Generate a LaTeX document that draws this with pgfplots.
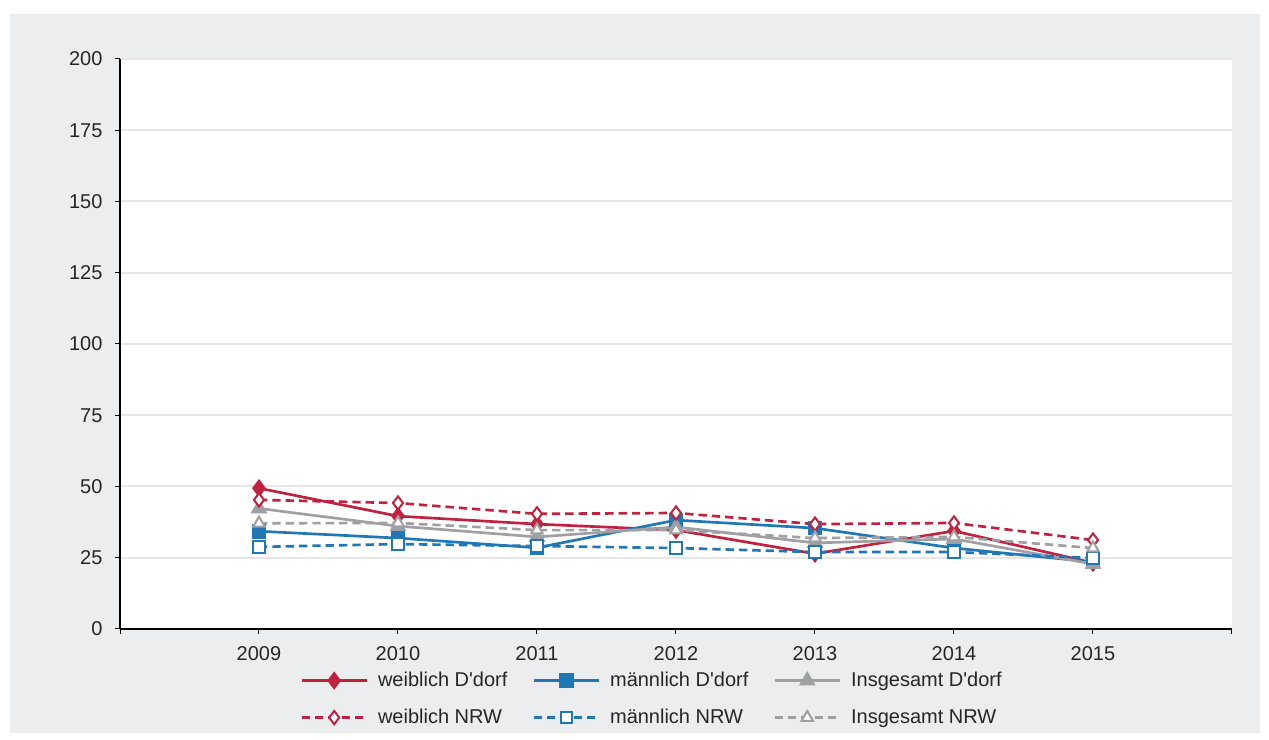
\documentclass[border=0pt]{standalone}
\usepackage{fontspec}
\setmainfont{Liberation Sans}
\usepackage{pgfplots}
\pgfplotsset{compat=1.18}
\definecolor{cred}{HTML}{C0213F}
\definecolor{cblue}{HTML}{2077B4}
\definecolor{cgray}{HTML}{A0A0A4}
\definecolor{bg}{HTML}{ECEDEF}
\definecolor{gridc}{HTML}{E6E6E8}
\begin{document}
\begin{tikzpicture}
\fill[white] (0pt,0pt) rectangle (761.4pt,444pt);
\fill[bg] (6pt,4.2pt) rectangle (756pt,435.6pt);
\begin{axis}[
  scale only axis, width=667.2pt, height=342pt,
  at={(72pt,66.6pt)}, anchor=south west,
  xmin=2008, xmax=2016, ymin=0, ymax=200,
  axis x line*=bottom, axis y line*=left,
  axis background/.style={fill=white},
  ytick={0,25,...,200},
  xtick={2008,...,2016},
  xticklabels={,2009,2010,2011,2012,2013,2014,2015,},
  tick align=outside, major tick length=3pt,
  tick style={black, line width=0.6pt},
  axis line style={black, line width=0.7pt},
  ymajorgrids, grid style={gridc, line width=1.2pt},
  tick label style={font=\fontsize{12}{14}\selectfont, text=black!85},
  /pgf/number format/assume math mode=true,
  xticklabel style={yshift=-4pt},
  yticklabel style={xshift=-4pt},
  legend columns=3,
  legend style={at={(0.479,-0.123)}, anchor=center, draw=none, fill=none,
    font=\fontsize{12}{14}\selectfont, row sep=8pt, text=black!85,
    /tikz/every odd column/.append style={column sep=4pt},
    /tikz/every even column/.append style={column sep=13pt}},
  legend cell align=left,
  legend image code/.code={\draw[line width=1.6pt,mark repeat=2,mark phase=2,#1] plot coordinates {(0pt,0pt) (19.5pt,0pt) (39pt,0pt)};},
]
\addplot[cred, line width=1.6pt, mark=diamond*, mark size=4.2pt, mark options={fill=cred, solid}]
  coordinates {(2009,49.4) (2010,39.6) (2011,36.8) (2012,34.7) (2013,26.4) (2014,34.4) (2015,23.2)};
\addlegendentry{weiblich D\textquotesingle dorf}
\addplot[cblue, line width=1.6pt, mark=square*, mark size=3.6pt, mark options={fill=cblue, solid}]
  coordinates {(2009,34.3) (2010,31.9) (2011,28.5) (2012,38.2) (2013,35.4) (2014,28.4) (2015,23.5)};
\addlegendentry{männlich D\textquotesingle dorf}
\addplot[cgray, line width=1.6pt, mark=triangle*, mark size=4.2pt, mark options={fill=cgray, solid}]
  coordinates {(2009,42.3) (2010,36.1) (2011,32.3) (2012,35.8) (2013,30.2) (2014,31.6) (2015,22.8)};
\addlegendentry{Insgesamt D\textquotesingle dorf}
\addplot[cred, line width=1.6pt, dash pattern=on 5pt off 3pt, mark=diamond*, mark size=4pt, mark options={fill=white, solid, line width=1.2pt}]
  coordinates {(2009,45.3) (2010,44.2) (2011,40.4) (2012,40.7) (2013,36.8) (2014,37.2) (2015,31.2)};
\addlegendentry{weiblich NRW}
\addplot[cblue, line width=1.6pt, dash pattern=on 5pt off 3pt, mark=square*, mark size=3.4pt, mark options={fill=white, solid, line width=1.2pt}]
  coordinates {(2009,28.8) (2010,29.8) (2011,29.1) (2012,28.4) (2013,27.0) (2014,27.0) (2015,24.9)};
\addlegendentry{männlich NRW}
\addplot[cgray, line width=1.6pt, dash pattern=on 5pt off 3pt, mark=triangle*, mark size=4pt, mark options={fill=white, solid, line width=1.2pt}]
  coordinates {(2009,37.1) (2010,37.2) (2011,34.7) (2012,34.7) (2013,31.9) (2014,32.3) (2015,28.4)};
\addlegendentry{Insgesamt NRW}
\end{axis}
\end{tikzpicture}
\end{document}
